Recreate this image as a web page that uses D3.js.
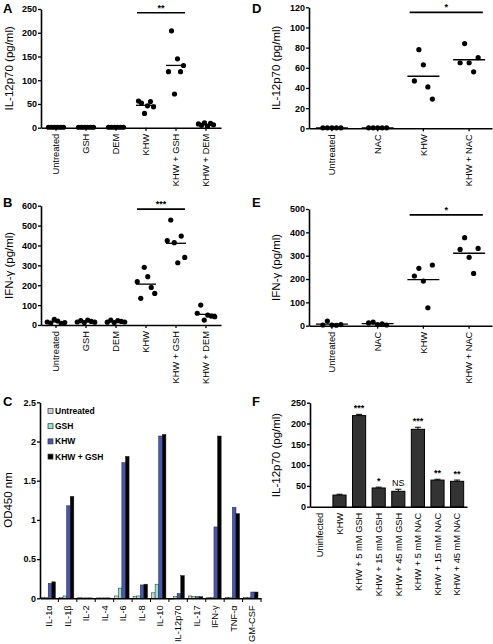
<!DOCTYPE html>
<html><head><meta charset="utf-8">
<script src="https://cdn.jsdelivr.net/npm/d3@7"></script>
<style>
body{margin:0;background:#fff;}
svg text{font-family:"Liberation Sans",Arial,sans-serif;}
</style></head>
<body><svg id="c" width="493" height="644"></svg>
<script>
// ---------- DATA ----------
const catsAB = ["Untreated","GSH","DEM","KHW","KHW + GSH","KHW + DEM"];
const valsA = [
  [1,1,1,1,1,1],
  [1,1,1,1,1,1],
  [1,1,1,1,1,1],
  [56,52,30,46,55,44],
  [118,204,71,145,118,131],
  [8,5,10,3,9,6]
];
const valsB = [
  [15,10,28,20,8,12],
  [15,22,12,25,18,14],
  [14,25,12,22,18,15],
  [218,134,290,243,189,159],
  [424,528,414,313,447,340],
  [59,100,25,50,45,42]
];
const ticksA = [0,50,100,150,200,250];
const ticksB = [0,100,200,300,400,500,600];

const catsDE = ["Untreated","NAC","KHW","KHW + NAC"];
const valsD = [
  [0.5,0.5,0.5,0.5,0.5],
  [0.5,0.5,0.5,0.5,0.5],
  [47,78,63,41,29],
  [65,84,65,56,70]
];
const valsE = [
  [3,20,3,2,5],
  [12,15,5,8,3],
  [213,246,191,77,260],
  [327,377,293,224,331]
];
const ticksD = [0,20,40,60,80,100,120];
const ticksE = [0,100,200,300,400,500];

const cytokines = ["IL-1\u03b1","IL-1\u03b2","IL-2","IL-4","IL-6","IL-8","IL-10","IL-12p70","IL-17","IFN-\u03b3","TNF-\u03b1","GM-CSF"];
const seriesC = ["Untreated","GSH","KHW","KHW + GSH"];
const colorsC = ["#cfcfcf","#8fe6d2","#4658b4","#000000"];
const odUntreated = [0.01,0.01,0.01,0.005,0.03,0.02,0.07,-0.01,0.03,0.01,0.01,0.01];
const odGSH       = [0.01,0.03,0.005,0.005,0.13,0.03,0.18,0.02,0.02,0.01,0.01,0.01];
const odKHW       = [0.19,1.18,0.005,0.005,1.73,0.17,2.07,0.06,0.02,0.91,1.16,0.08];
const odKHWGSH    = [0.21,1.30,0.005,0.005,1.81,0.18,2.09,0.29,0.02,2.07,1.08,0.08];
const ticksC = [0,0.5,1,1.5,2,2.5];

const catsF = ["Uninfected","KHW","KHW + 5 mM GSH","KHW + 15 mM GSH","KHW + 45 mM GSH","KHW + 5 mM NAC","KHW + 15 mM NAC","KHW + 45 mM NAC"];
const valsF = [0,28,219,45,37,186,64,61];
const errF  = [0,2,3,2,5,5,2,3];
const sigF  = ["","","***","*","NS","***","**","**"];
const ticksF = [0,50,100,150,200,250];

// ---------- DRAW ----------
const svg = d3.select("#c");
svg.append("rect").attr("width",493).attr("height",644).attr("fill","#fff");

function styleAxis(g){
  g.selectAll(".domain").attr("stroke","#000").attr("stroke-width",1.6);
  g.selectAll(".tick line").attr("stroke","#000").attr("stroke-width",1.3);
}
function yAxis(y,x0,ticks,fmt){
  const g = svg.append("g").attr("transform",`translate(${x0},0)`)
    .call(d3.axisLeft(y).tickValues(ticks).tickSize(3).tickSizeOuter(0).tickPadding(1).tickFormat(fmt||d3.format("d")));
  styleAxis(g);
  g.selectAll("text").attr("font-size",9).attr("font-weight","bold").attr("fill","#000");
  return g;
}
function xAxisRot(x,y0,ticksOn){
  const g = svg.append("g").attr("transform",`translate(0,${y0})`)
    .call(d3.axisBottom(x).tickSize(ticksOn?3:0).tickSizeOuter(0));
  styleAxis(g);
  g.selectAll("text").attr("font-size",9.3).attr("fill","#000")
    .attr("transform","rotate(-90)").attr("y",0).attr("x",-6).attr("dy","0.35em")
    .style("text-anchor","end");
  return g;
}
function title(t,x,y){
  svg.append("text").attr("transform",`translate(${x},${y}) rotate(-90)`)
    .attr("text-anchor","middle").attr("font-size",11.5).text(t);
}
function letter(t,x,y){
  svg.append("text").attr("x",x).attr("y",y).attr("font-size",13).attr("font-weight","bold").text(t);
}

function dotPanel(cats,vals,ticks,xr,yr,ymax,step,lineW,sig,sigVal,sigTxt,ttl,ttlX){
  const x = d3.scaleBand().domain(cats).range(xr);
  const y = d3.scaleLinear().domain([0,ymax]).range(yr);
  yAxis(y,xr[0],ticks);
  xAxisRot(x,yr[0],true);
  const bw = x.bandwidth();
  cats.forEach((c,i)=>{
    const cx = x(c)+bw/2;
    const n = vals[i].length;
    vals[i].forEach((v,j)=>{
      svg.append("circle").attr("cx",cx+(j-(n-1)/2)*step).attr("cy",y(v)).attr("r",2.6).attr("fill","#000");
    });
    const m = d3.mean(vals[i]);
    svg.append("line").attr("x1",cx-lineW/2).attr("x2",cx+lineW/2).attr("y1",y(m)).attr("y2",y(m))
      .attr("stroke","#000").attr("stroke-width",1.3);
  });
  const a = x(cats[sig[0]]), b = x(cats[sig[1]]);
  const sx1 = a+bw*0.2, sx2 = b+bw*0.8;
  svg.append("line").attr("x1",sx1).attr("x2",sx2).attr("y1",y(sigVal)).attr("y2",y(sigVal))
    .attr("stroke","#000").attr("stroke-width",1.6);
  svg.append("text").attr("x",(sx1+sx2)/2).attr("y",y(sigVal)-2).attr("text-anchor","middle")
    .attr("font-size",9).attr("font-weight","bold").text(sigTxt);
  title(ttl,ttlX,(yr[0]+yr[1])/2);
}

// A
letter("A",3,13);
dotPanel(catsAB,valsA,ticksA,[41,221],[127.7,9],250,3,20,[3,4],242,"**","IL-12p70 (pg/ml)",13);
// B
letter("B",3,207);
dotPanel(catsAB,valsB,ticksB,[41,221],[325,205.7],600,3.5,20,[3,4],583,"***","IFN-\u03b3 (pg/ml)",13);
// D
letter("D",252,13);
dotPanel(catsDE,valsD,ticksD,[309,492],[128.3,7.3],120,4.5,32,[2,3],115,"*","IL-12p70 (pg/ml)",280);
// E
letter("E",252,207);
dotPanel(catsDE,valsE,ticksE,[309,492],[325.7,209],500,4.5,32,[2,3],475,"*","IFN-\u03b3 (pg/ml)",280);

// C
letter("C",3,406);
{
  const x = d3.scaleBand().domain(cytokines).range([40,261]);
  const y = d3.scaleLinear().domain([0,2.5]).range([598.3,402.3]);
  const bw = x.bandwidth();
  const xi = d3.scaleBand().domain(seriesC).range([1,bw-3]);
  const dataC = [odUntreated,odGSH,odKHW,odKHWGSH];
  yAxis(y,40,ticksC,d=>d3.format("~g")(d));
  seriesC.forEach((s,si)=>{
    cytokines.forEach((c,ci)=>{
      const v = dataC[si][ci];
      svg.append("rect").attr("x",x(c)+xi(s)).attr("width",xi.bandwidth())
        .attr("y",Math.min(y(v),y(0))).attr("height",Math.max(0.6,Math.abs(y(v)-y(0))))
        .attr("fill",colorsC[si]).attr("stroke","#222").attr("stroke-width",0.5);
    });
  });
  const g = xAxisRot(x,598.3,false);
  g.selectAll("text").attr("x",-7);
  cytokines.forEach(c=>{
    svg.append("line").attr("x1",x(c)+bw).attr("x2",x(c)+bw).attr("y1",598.3).attr("y2",602)
      .attr("stroke","#000").attr("stroke-width",1);
  });
  title("OD450 nm",12,500);
  seriesC.forEach((s,si)=>{
    const ly = 411.5+si*15.2;
    svg.append("rect").attr("x",48).attr("y",ly-3).attr("width",5).attr("height",5)
      .attr("fill",colorsC[si]).attr("stroke","#333").attr("stroke-width",0.7);
    svg.append("text").attr("x",55).attr("y",ly+2.5).attr("font-size",8.5).attr("font-weight","bold").text(s);
  });
}

// F
letter("F",252,406);
{
  const x = d3.scaleBand().domain(catsF).range([310,467]).paddingInner(0.33).paddingOuter(0.17);
  const y = d3.scaleLinear().domain([0,250]).range([506.7,402.7]);
  yAxis(y,310,ticksF);
  catsF.forEach((c,i)=>{
    const v = valsF[i];
    const cx = x(c)+x.bandwidth()/2;
    if(v>0){
      svg.append("rect").attr("x",x(c)).attr("width",x.bandwidth()).attr("y",y(v)).attr("height",y(0)-y(v))
        .attr("fill","#333").attr("stroke","#000").attr("stroke-width",1);
      svg.append("line").attr("x1",cx).attr("x2",cx).attr("y1",y(v+errF[i])).attr("y2",y(v)).attr("stroke","#000");
      svg.append("line").attr("x1",cx-3).attr("x2",cx+3).attr("y1",y(v+errF[i])).attr("y2",y(v+errF[i])).attr("stroke","#000");
    }
    if(sigF[i]){
      svg.append("text").attr("x",cx).attr("y",y(v+errF[i])-3).attr("text-anchor","middle")
        .attr("font-size",9).attr("font-weight",sigF[i]==="NS"?"normal":"bold").text(sigF[i]);
    }
  });
  xAxisRot(x,506.7,false);
  title("IL-12p70 (pg/ml)",280,455);
}
</script></body></html>
